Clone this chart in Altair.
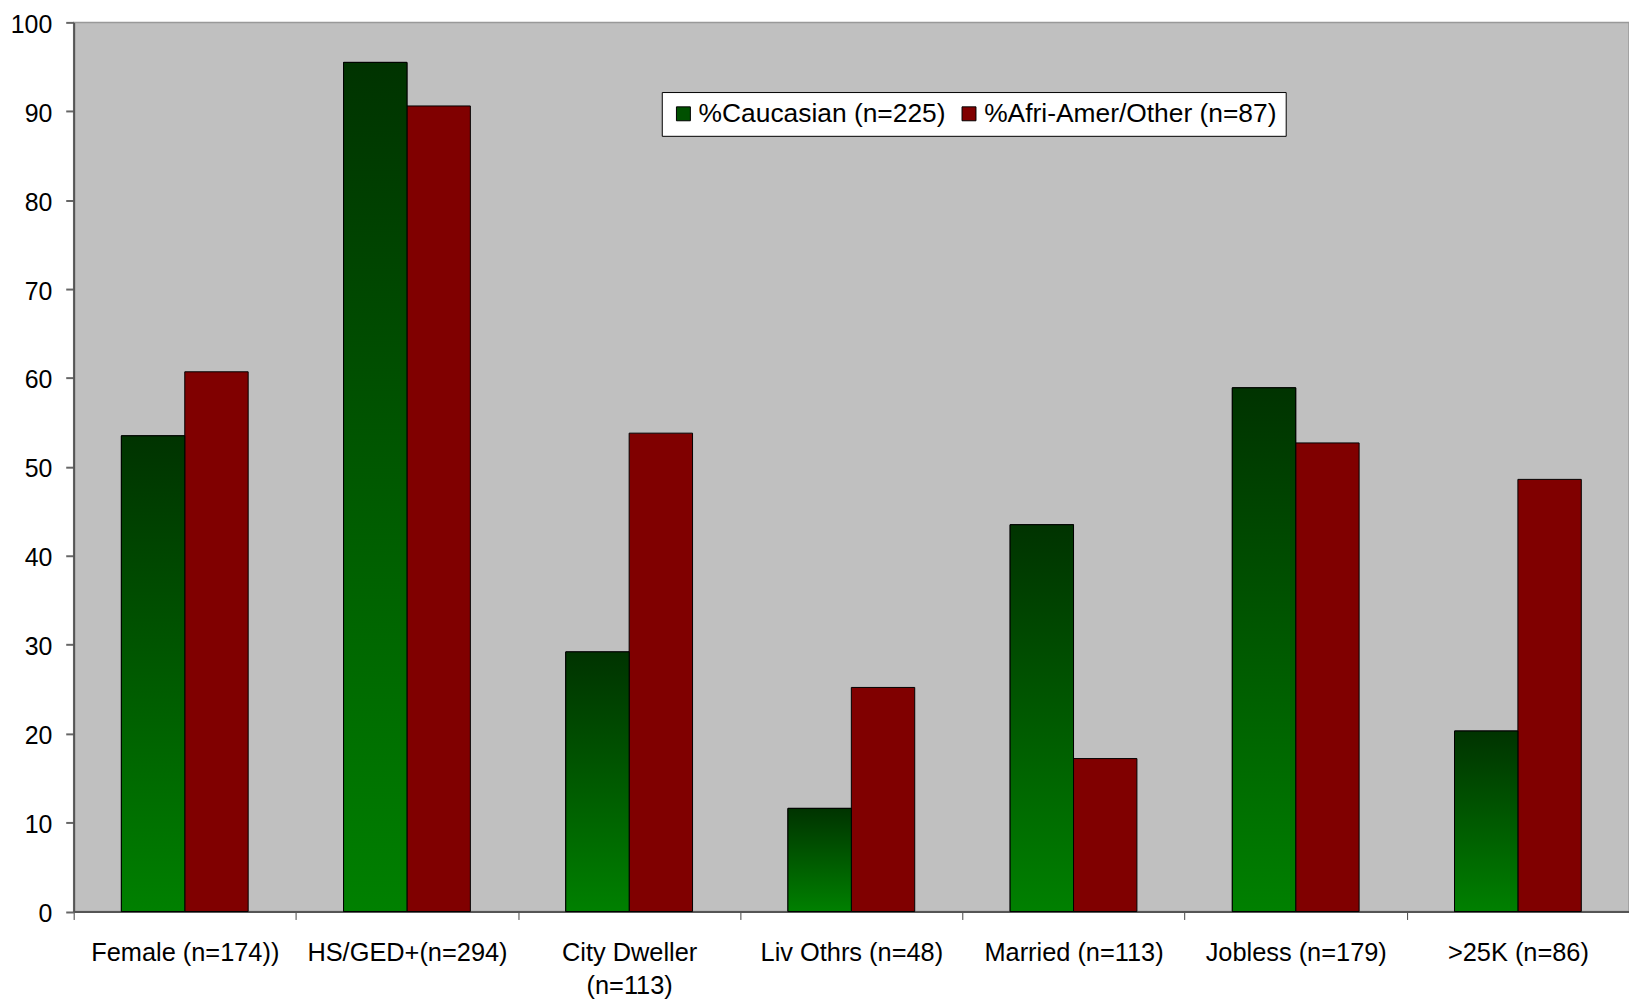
import altair as alt
import pandas as pd

categories = ["Female (n=174))", "HS/GED+(n=294)", "City Dweller|(n=113)", "Liv Othrs (n=48)",
              "Married (n=113)", "Jobless (n=179)", ">25K (n=86)"]
series = ["%Caucasian (n=225)", "%Afri-Amer/Other (n=87)"]
caucasian = [53.5, 95.5, 29.2, 11.6, 43.5, 58.9, 20.3]
afri_amer = [60.7, 90.6, 53.8, 25.2, 17.2, 52.7, 48.6]
y_ticks = list(range(0, 101, 10))

rows = []
for c, a, b in zip(categories, caucasian, afri_amer):
    rows.append({"cat": c, "series": series[0], "value": a})
    rows.append({"cat": c, "series": series[1], "value": b})
df = pd.DataFrame(rows)

FONT = "Liberation Sans"

x_enc = alt.X("cat:N", sort=categories, title=None,
              scale=alt.Scale(paddingInner=0, paddingOuter=0),
              axis=alt.Axis(labelExpr="split(datum.label, '|')", labelAngle=0, labelLimit=0,
                            labelOverlap=False, labelFont=FONT, labelFontSize=25.5, labelColor="black",
                            labelLineHeight=33.5, labelPadding=21, tickBand="extent", tickSize=8,
                            tickColor="#444444", tickWidth=1, domainColor="#555555", domainWidth=2,
                            grid=False))
xo_enc = alt.XOffset("series:N", sort=series,
                     scale=alt.Scale(domain=series, paddingInner=0, paddingOuter=0.7525))
y_enc = alt.Y("value:Q", title=None, scale=alt.Scale(domain=[0, 100], nice=False),
              axis=alt.Axis(values=y_ticks, labelFont=FONT, labelFontSize=25, labelColor="black",
                            labelPadding=14, labelOffset=2, tickSize=8, tickColor="#666666",
                            tickWidth=2, domainColor="#555555", domainWidth=2, grid=False))

base = alt.Chart(df).encode(x=x_enc, xOffset=xo_enc, y=y_enc)

bars = base.mark_bar(stroke="black", strokeWidth=1).encode(
    color=alt.Color("series:N", sort=series,
                    scale=alt.Scale(domain=series, range=["#005000", "#800000"]),
                    legend=alt.Legend(title=None, orient="none", legendX=591, legendY=70,
                                      direction="horizontal", fillColor="white", strokeColor="black",
                                      padding=8.5, labelFont=FONT, labelFontSize=26.5, labelColor="black",
                                      symbolType="square", symbolSize=196, symbolStrokeColor="black",
                                      symbolStrokeWidth=1, labelOffset=2, columnPadding=10,
                                      labelLimit=0))
)

green_grad = alt.Gradient(gradient="linear", x1=0, x2=0, y1=0, y2=1,
                          stops=[alt.GradientStop(color="#003300", offset=0),
                                 alt.GradientStop(color="#008000", offset=1)])
grad_bars = base.transform_filter(alt.datum.series == series[0]).mark_bar(
    stroke="black", strokeWidth=1, fill=green_grad)

chart = alt.layer(bars, grad_bars).properties(
    width=1563, height=893.5,
    autosize=alt.AutoSizeParams(type="none"),
    padding={"left": 66, "top": 12, "right": 0, "bottom": 90},
    background="white",
).configure_view(fill="#C0C0C0", stroke="#999999", strokeWidth=1.5)

chart.save("out.html", embed_options={"renderer": "svg", "actions": False})
